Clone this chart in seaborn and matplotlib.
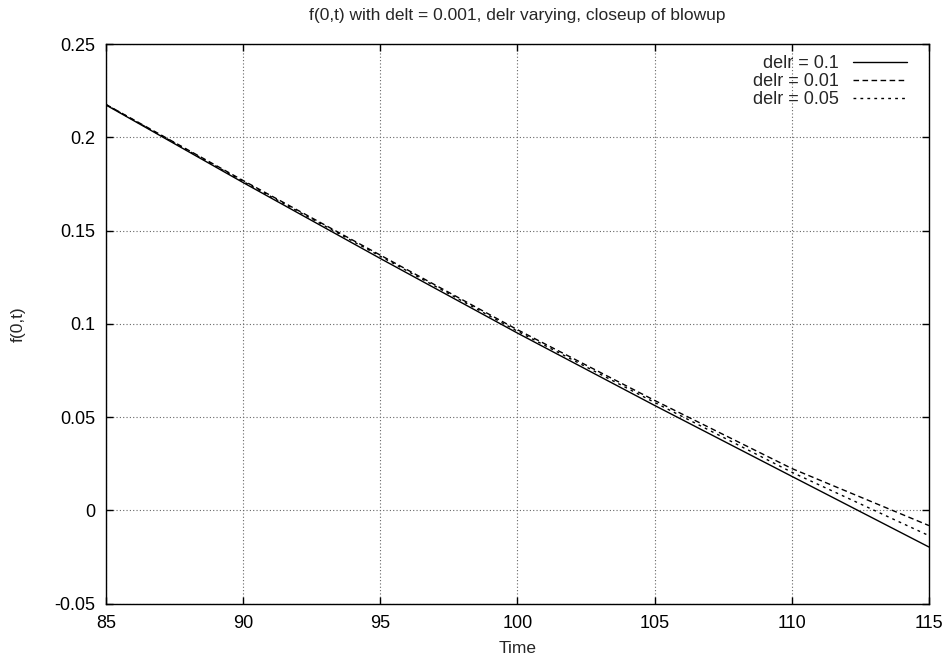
import numpy as np
import pandas as pd
import seaborn as sns
import matplotlib
matplotlib.use("Agg")
import matplotlib.pyplot as plt

# values
time = [85, 90, 95, 100, 105, 110, 115]
f_delr_01 = [0.2173, 0.1757, 0.1350, 0.0950, 0.0562, 0.0182, -0.0197]
f_delr_001 = [0.2176, 0.1768, 0.1368, 0.0968, 0.0589, 0.0224, -0.0082]
f_delr_005 = [0.2175, 0.1763, 0.1362, 0.0960, 0.0578, 0.0204, -0.0136]
labels = ["delr = 0.1", "delr = 0.01", "delr = 0.05"]
xticks = [85, 90, 95, 100, 105, 110, 115]
yticks = [-0.05, 0, 0.05, 0.1, 0.15, 0.2, 0.25]

sns.set_style("ticks")
plt.rcParams['font.family'] = ['Liberation Sans', 'DejaVu Sans']

fig = plt.figure(figsize=(9.45, 6.58), dpi=100)
ax = fig.add_axes([0.1122, 0.0828, 0.8708, 0.8503])

styles = ["-", (0, (4, 2.5)), (0, (2, 3))]
for ys, lab, ls in zip([f_delr_01, f_delr_001, f_delr_005], labels, styles):
    df = pd.DataFrame({"Time": time, "f": ys})
    sns.lineplot(data=df, x="Time", y="f", ax=ax, color="black",
                 linewidth=1.0, linestyle=ls, label=lab)

ax.set_xlim(85, 115)
ax.set_ylim(-0.05, 0.25)
ax.set_xticks(xticks)
ax.set_xticklabels([str(t) for t in xticks])
ax.set_yticks(yticks)
ax.set_yticklabels(["-0.05", "0", "0.05", "0.1", "0.15", "0.2", "0.25"])
ax.tick_params(direction="in", length=5, width=1, top=True, right=True,
               labelsize=13, pad=8, colors="black")
ax.grid(True, color="#666666", linestyle=(0, (1, 2)), linewidth=0.8)
for s in ax.spines.values():
    s.set_color("black")
    s.set_linewidth(1.0)

ax.set_title("f(0,t) with delt = 0.001, delr varying, closeup of blowup",
             fontsize=12.5, pad=17)
ax.set_xlabel("Time", fontsize=12.5)
ax.set_ylabel("f(0,t)", fontsize=12.5)
ax.xaxis.set_label_coords(0.5, -0.067)
ax.yaxis.set_label_coords(-0.098, 0.5)

ax.legend(loc="upper right", bbox_to_anchor=(0.973, 0.980), frameon=False,
          markerfirst=False, fontsize=13, handlelength=3.0, handletextpad=0.75,
          labelspacing=0.05, borderaxespad=0, borderpad=0)

plt.savefig("out.png", dpi=100)
